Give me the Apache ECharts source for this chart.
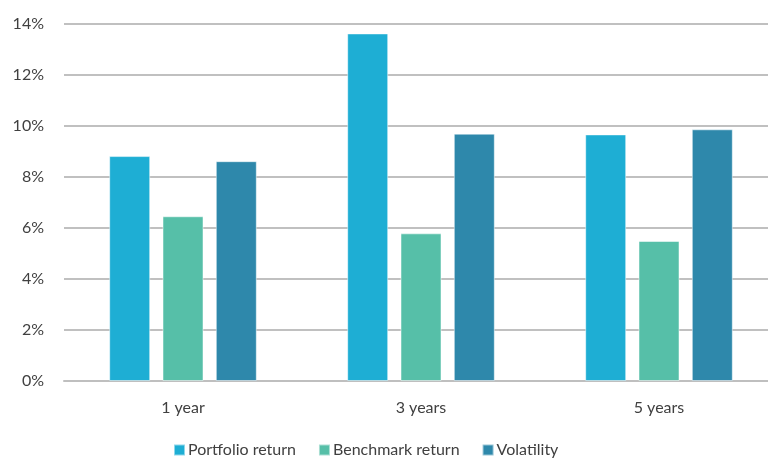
<!DOCTYPE html>
<html>
<head>
<meta charset="utf-8">
<script src="https://cdn.jsdelivr.net/npm/echarts@6/dist/echarts.min.js"></script>
<style>
  html, body { margin: 0; padding: 0; background: #fff; }
  #chart { width: 768px; height: 459px; }
</style>
</head>
<body>
<div id="chart"></div>
<script>
// data
const categories = ['1 year', '3 years', '5 years']
const seriesNames = ['Portfolio return', 'Benchmark return', 'Volatility']
const portfolioReturn = [8.82, 13.63, 9.67]
const benchmarkReturn = [6.46, 5.79, 5.49]
const volatility = [8.62, 9.70, 9.87]
const colors = ['#1EAED4', '#56BFA8', '#2E88AB']

const chart = echarts.init(document.getElementById('chart'))
const font = 'Lato, "Open Sans", sans-serif'

function barSeries (name, data, color) {
  return {
    name: name,
    type: 'bar',
    data: data,
    barWidth: 41,
    barGap: '30%',
    itemStyle: { color: color, borderColor: 'rgba(255,255,255,0.5)', borderWidth: 1 }
  }
}

chart.setOption({
  animation: false,
  color: colors,
  textStyle: { fontFamily: font },
  // the plot runs past the right edge of the picture, like in the original
  grid: { left: 64, top: 24, width: 714, height: 357, outerBoundsMode: 'none' },
  legend: {
    left: 173,
    top: 442,
    padding: 0,
    itemWidth: 11,
    itemHeight: 11,
    itemGap: 22,
    icon: 'rect',
    textStyle: { color: '#404040', fontSize: 16, fontFamily: font, padding: [0, 0, 0, -2] }
  },
  xAxis: {
    type: 'category',
    data: categories,
    axisTick: { show: false },
    axisLine: { lineStyle: { color: '#BFBFBF', width: 2 } },
    axisLabel: { color: '#404040', fontSize: 16, margin: 19 }
  },
  yAxis: {
    type: 'value',
    min: 0,
    max: 14,
    interval: 2,
    axisLine: { show: false },
    axisTick: { show: false },
    splitLine: { lineStyle: { color: '#C0C0C0', width: 2 } },
    axisLabel: { color: '#404040', fontSize: 16, margin: 20, formatter: '{value}%' }
  },
  series: [
    barSeries(seriesNames[0], portfolioReturn, colors[0]),
    barSeries(seriesNames[1], benchmarkReturn, colors[1]),
    barSeries(seriesNames[2], volatility, colors[2])
  ]
})
</script>
</body>
</html>
